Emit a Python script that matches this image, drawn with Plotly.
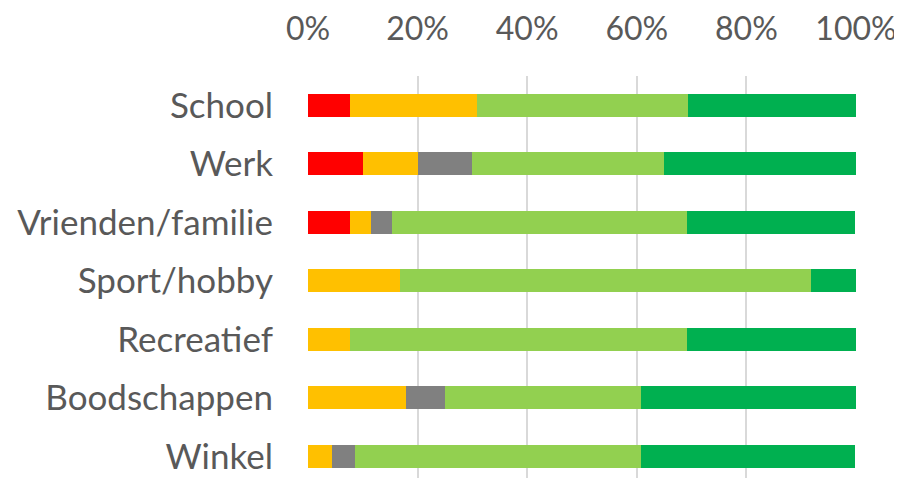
import plotly.graph_objects as go

categories = ["School", "Werk", "Vrienden/familie", "Sport/hobby", "Recreatief", "Boodschappen", "Winkel"]
series_names = ["Zeer onveilig", "Onveilig", "Neutraal", "Veilig", "Zeer veilig"]
zeer_onveilig = [7.7, 10.0, 7.7, 0.0, 0.0, 0.0, 0.0]
onveilig = [23.1, 10.0, 3.8, 16.7, 7.7, 17.9, 4.3]
neutraal = [0.0, 10.0, 3.8, 0.0, 0.0, 7.1, 4.3]
veilig = [38.5, 35.0, 53.8, 75.0, 61.5, 35.7, 52.2]
zeer_veilig = [30.8, 35.0, 30.8, 8.3, 30.8, 39.3, 39.1]
colors = ["#FF0000", "#FFC000", "#808080", "#92D050", "#00B050"]
tick_vals = [0, 20, 40, 60, 80, 100]
tick_text = ["0%", "20%", "40%", "60%", "80%", "100%"]

fig = go.Figure()
for name, vals, col in zip(series_names, [zeer_onveilig, onveilig, neutraal, veilig, zeer_veilig], colors):
    fig.add_trace(go.Bar(
        y=categories, x=vals, name=name, orientation="h",
        marker=dict(color=col, line=dict(width=0)),
        width=0.39,
    ))

font_family = "Lato, Open Sans, sans-serif"
fig.update_layout(
    barmode="stack",
    width=894, height=470,
    margin=dict(l=300, r=46, t=68, b=0),
    paper_bgcolor="white", plot_bgcolor="white",
    showlegend=False,
    font=dict(family=font_family, size=32, color="#595959"),
    xaxis=dict(
        side="top", range=[0, 100], tickvals=tick_vals, ticktext=tick_text,
        showgrid=True, gridcolor="#D9D9D9", gridwidth=2,
        zeroline=False, showline=False, ticks="",
        ticklabelstandoff=29,
        tickfont=dict(size=32, color="#595959"),
    ),
    yaxis=dict(
        type="category", range=[6.37, -0.5],
        showgrid=False, zeroline=False, showline=False, ticks="",
        ticklabelstandoff=34,
        tickfont=dict(size=35, color="#595959"),
    ),
)
fig.write_html("out.html")
